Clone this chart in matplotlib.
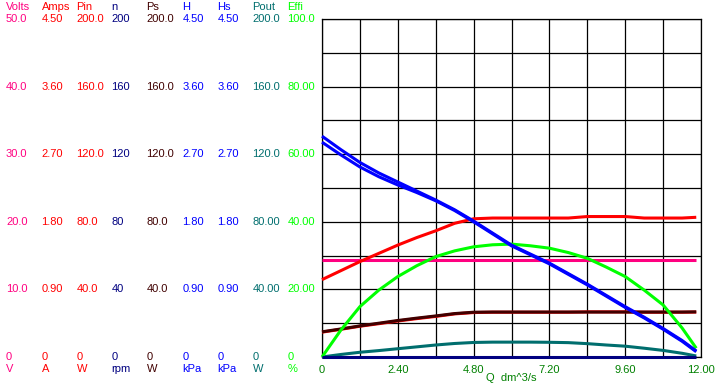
import matplotlib
matplotlib.use('Agg')
import matplotlib.pyplot as plt
import matplotlib.transforms as mtransforms
import numpy as np

plt.rcParams['font.family'] = ['Liberation Sans', 'DejaVu Sans']
plt.rcParams['font.size'] = 8

# flow rate Q [dm^3/s]
q = [0, 0.6, 1.2, 1.8, 2.4, 3.0, 3.6, 4.2, 4.8, 5.4, 6.0, 6.6, 7.2, 7.8,
     8.4, 9.0, 9.6, 10.2, 10.8, 11.4, 11.85]

volts = [14.3] * 21
amps = [1.03, 1.15, 1.27, 1.38, 1.49, 1.59, 1.68, 1.78, 1.84, 1.85, 1.85,
        1.85, 1.85, 1.85, 1.87, 1.87, 1.87, 1.85, 1.85, 1.85, 1.86]
pin = [14.7, 16.4, 18.2, 19.7, 21.3, 22.7, 24.0, 25.5, 26.3, 26.5, 26.5,
       26.5, 26.5, 26.5, 26.7, 26.7, 26.7, 26.5, 26.5, 26.5, 26.6]
rpm = [0] * 21
ps = [14.9, 16.6, 18.4, 20.0, 21.6, 23.0, 24.3, 25.7, 26.5, 26.6, 26.6,
      26.6, 26.6, 26.6, 26.6, 26.6, 26.6, 26.6, 26.6, 26.6, 26.7]
h = [2.94, 2.76, 2.59, 2.45, 2.33, 2.21, 2.09, 1.96, 1.81, 1.65, 1.49,
     1.37, 1.25, 1.11, 0.97, 0.82, 0.67, 0.53, 0.38, 0.22, 0.08]
hs = [2.86, 2.69, 2.53, 2.40, 2.29, 2.19, 2.08, 1.95, 1.80, 1.64, 1.48,
      1.36, 1.24, 1.10, 0.96, 0.81, 0.66, 0.52, 0.37, 0.21, 0.07]
pout = [0, 1.5, 2.8, 3.8, 4.9, 6.0, 7.1, 8.0, 8.6, 8.8, 8.8, 8.8, 8.7,
        8.5, 7.9, 7.1, 6.4, 5.2, 3.9, 2.2, 0.6]
effi = [0, 8.0, 14.9, 19.8, 23.8, 27.0, 29.7, 31.4, 32.6, 33.2, 33.4,
        32.9, 32.2, 30.9, 29.2, 26.6, 23.8, 19.8, 15.4, 8.6, 2.6]

names = ['Volts', 'Amps', 'Pin', 'n', 'Ps', 'H', 'Hs', 'Pout', 'Effi']
units = ['V', 'A', 'W', 'rpm', 'W', 'kPa', 'kPa', 'W', '%']
full = [50, 4.5, 200, 200, 200, 4.5, 4.5, 200, 100]
colors = ['#ff0080', '#ff0000', '#ff0000', '#000080', '#400000',
          '#0000ff', '#0000ff', '#006e6e', '#00ff00']
scale_labels = [
    ['50.0', '40.0', '30.0', '20.0', '10.0', '0'],
    ['4.50', '3.60', '2.70', '1.80', '0.90', '0'],
    ['200.0', '160.0', '120.0', '80.0', '40.0', '0'],
    ['200', '160', '120', '80', '40', '0'],
    ['200.0', '160.0', '120.0', '80.0', '40.0', '0'],
    ['4.50', '3.60', '2.70', '1.80', '0.90', '0'],
    ['4.50', '3.60', '2.70', '1.80', '0.90', '0'],
    ['200.0', '160.0', '120.0', '80.00', '40.00', '0'],
    ['100.0', '80.00', '60.00', '40.00', '20.00', '0'],
]
xtick_labels = ['0', '2.40', '4.80', '7.20', '9.60', '12.00']
series = [volts, amps, pin, rpm, ps, h, hs, pout, effi]

W, H = 719, 385
fig = plt.figure(figsize=(W / 100, H / 100), dpi=100)
ax = fig.add_axes([322 / W, 1 - 357 / H, 379 / W, 338 / H])

ax.set_xlim(0, 12)
ax.set_ylim(0, 100)
ax.set_xticks(np.arange(0, 12.01, 1.2))
ax.set_yticks(np.arange(0, 100.1, 10))
ax.grid(True, color='black', lw=0.9)
ax.tick_params(length=0, labelleft=False, labelbottom=False)
for s in ax.spines.values():
    s.set_color('black')
    s.set_linewidth(0.9)

# curves, each on its own full scale (percent of the column maximum)
order = [0, 1, 2, 4, 7, 8, 5, 6, 3]
for i in order:
    y = np.array(series[i]) / full[i] * 100
    ax.plot(q, y, color=colors[i], lw=2.2, solid_capstyle='butt',
            clip_on=False, zorder=3)

# x labels
for k, lab in enumerate(xtick_labels):
    ax.text(k * 2.4, -2.4, lab, color='#008000', ha='center', va='top',
            transform=ax.transData, clip_on=False)
fig.text(511 / W, 1 - 378 / H, 'Q  dm^3/s', color='#008000', ha='center',
         va='center')

# left scale columns
tr = mtransforms.blended_transform_factory(fig.transFigure, ax.transAxes)
col_x = [6, 41.5, 76.5, 111.5, 146.5, 182.5, 217.5, 252.5, 287.5]
for i in range(9):
    x = col_x[i] / W
    fig.text(x, 1 - 7 / H, names[i], color=colors[i], ha='left', va='center')
    for k, lab in enumerate(scale_labels[i]):
        ax.text(x, 1 - k * 0.2, lab, color=colors[i], ha='left',
                va='center', transform=tr, clip_on=False)
    fig.text(x, 1 - 369 / H, units[i], color=colors[i], ha='left',
             va='center')

fig.savefig('out.png', dpi=100)
